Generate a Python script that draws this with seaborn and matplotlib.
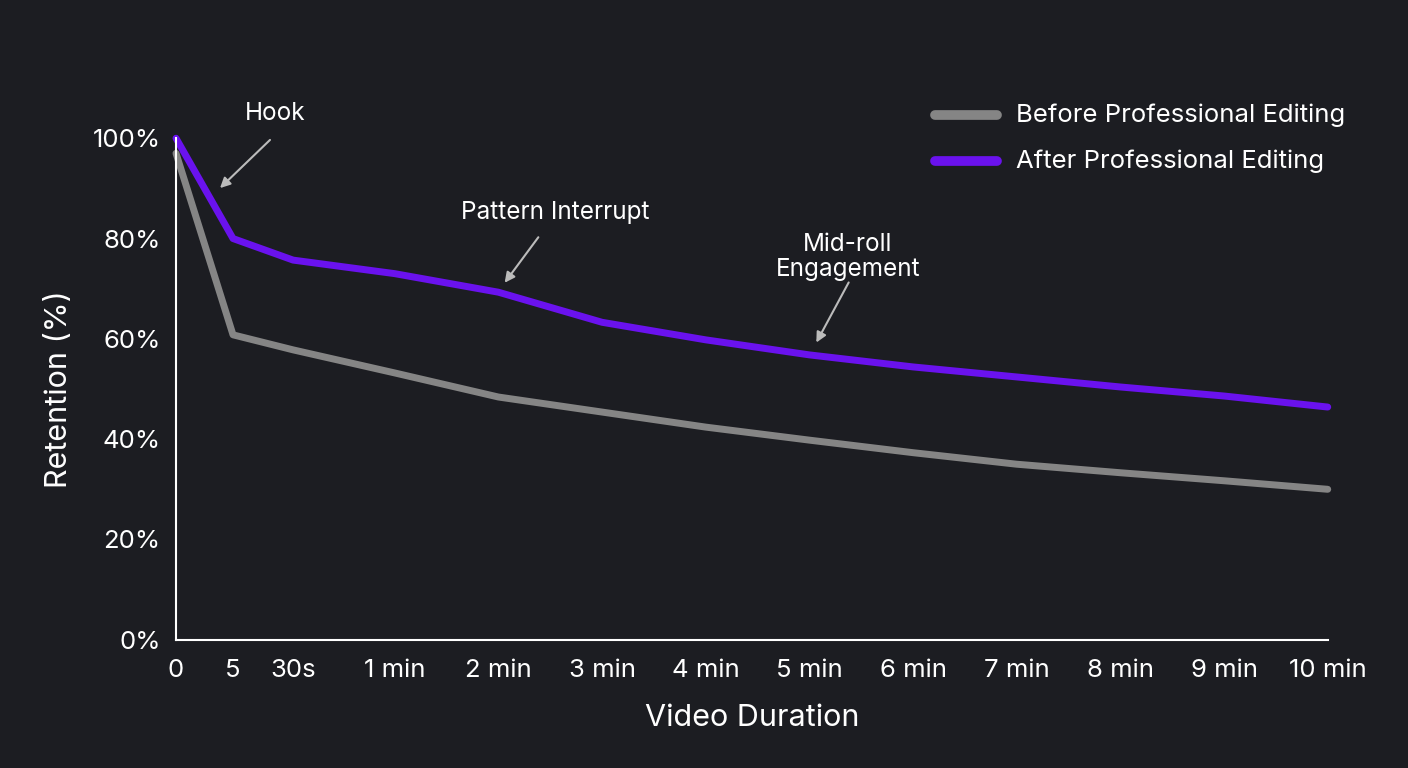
import matplotlib
matplotlib.use("Agg")
import matplotlib.pyplot as plt
import seaborn as sns
import pandas as pd

tick_labels = ["0", "5", "30s", "1 min", "2 min", "3 min", "4 min", "5 min", "6 min", "7 min", "8 min", "9 min", "10 min"]
tick_pos = [0, 0.55, 1.13, 2.11, 3.11, 4.11, 5.11, 6.11, 7.11, 8.11, 9.11, 10.11, 11.11]
before = [97, 60.8, 57.8, 53.2, 48.4, 45.4, 42.4, 39.8, 37.3, 35.0, 33.3, 31.7, 30.0]
after = [100, 80, 75.7, 73.0, 69.3, 63.3, 59.8, 56.8, 54.4, 52.4, 50.4, 48.6, 46.4]

df = pd.DataFrame({"x": tick_pos * 2, "y": before + after,
                   "s": ["Before Professional Editing"] * 13 + ["After Professional Editing"] * 13})

bg = "#1c1d22"
sns.set_theme(style="dark")
plt.rcParams["font.family"] = ["Inter", "DejaVu Sans"]
fig = plt.figure(figsize=(14.08, 7.68), dpi=100, facecolor=bg)
ax = fig.add_axes([0.125, 0.167, 0.818, 0.653], facecolor=bg)
sns.lineplot(data=df, x="x", y="y", hue="s", palette=["#858585", "#6a12ee"],
             linewidth=5, ax=ax, legend=False)
for l in ax.lines:
    l.set_clip_on(False)
ax.set_xlim(0, 11.11)
ax.set_ylim(0, 100)
ax.set_xticks(tick_pos, tick_labels)
ax.set_yticks(range(0, 101, 20), [f"{v}%" for v in range(0, 101, 20)])
ax.tick_params(colors="white", labelsize=18.5, length=0)
ax.tick_params(axis="x", pad=14)
ax.tick_params(axis="y", pad=11)
for s in ["top", "right"]:
    ax.spines[s].set_visible(False)
for s in ["left", "bottom"]:
    ax.spines[s].set_color("white")
    ax.spines[s].set_linewidth(1.5)
ax.set_xlabel("Video Duration", color="white", fontsize=22, labelpad=16)
ax.set_ylabel("Retention (%)", color="white", fontsize=22, labelpad=14)

H = 768
ann = [("Hook", (275, 113), (272, 138), (218, 190)),
       ("Pattern Interrupt", (555, 212), (540, 235), (503, 285)),
       ("Mid-roll\nEngagement", (848, 257), (850, 280), (815, 345))]
for txt, tp, a0, a1 in ann:
    fig.text(tp[0] / 1408, 1 - tp[1] / H, txt, color="white", fontsize=17.5, ha="center", va="center",
             linespacing=1.15)
    ax.annotate("", xy=(a1[0], H - a1[1]), xytext=(a0[0], H - a0[1]), xycoords="figure pixels",
                textcoords="figure pixels",
                arrowprops=dict(arrowstyle="-|>", color="#bbbbbb", lw=1.5, mutation_scale=15))

for i, (lab, c) in enumerate([("Before Professional Editing", "#858585"), ("After Professional Editing", "#6a12ee")]):
    y = 1 - (115 + 46 * i) / H
    fig.add_artist(plt.Line2D([935 / 1408, 997 / 1408], [y, y], color=c, lw=7, solid_capstyle="round"))
    fig.text(1016 / 1408, y, lab, color="white", fontsize=18.5, va="center")

fig.savefig("out.png", dpi=100, facecolor=bg)
